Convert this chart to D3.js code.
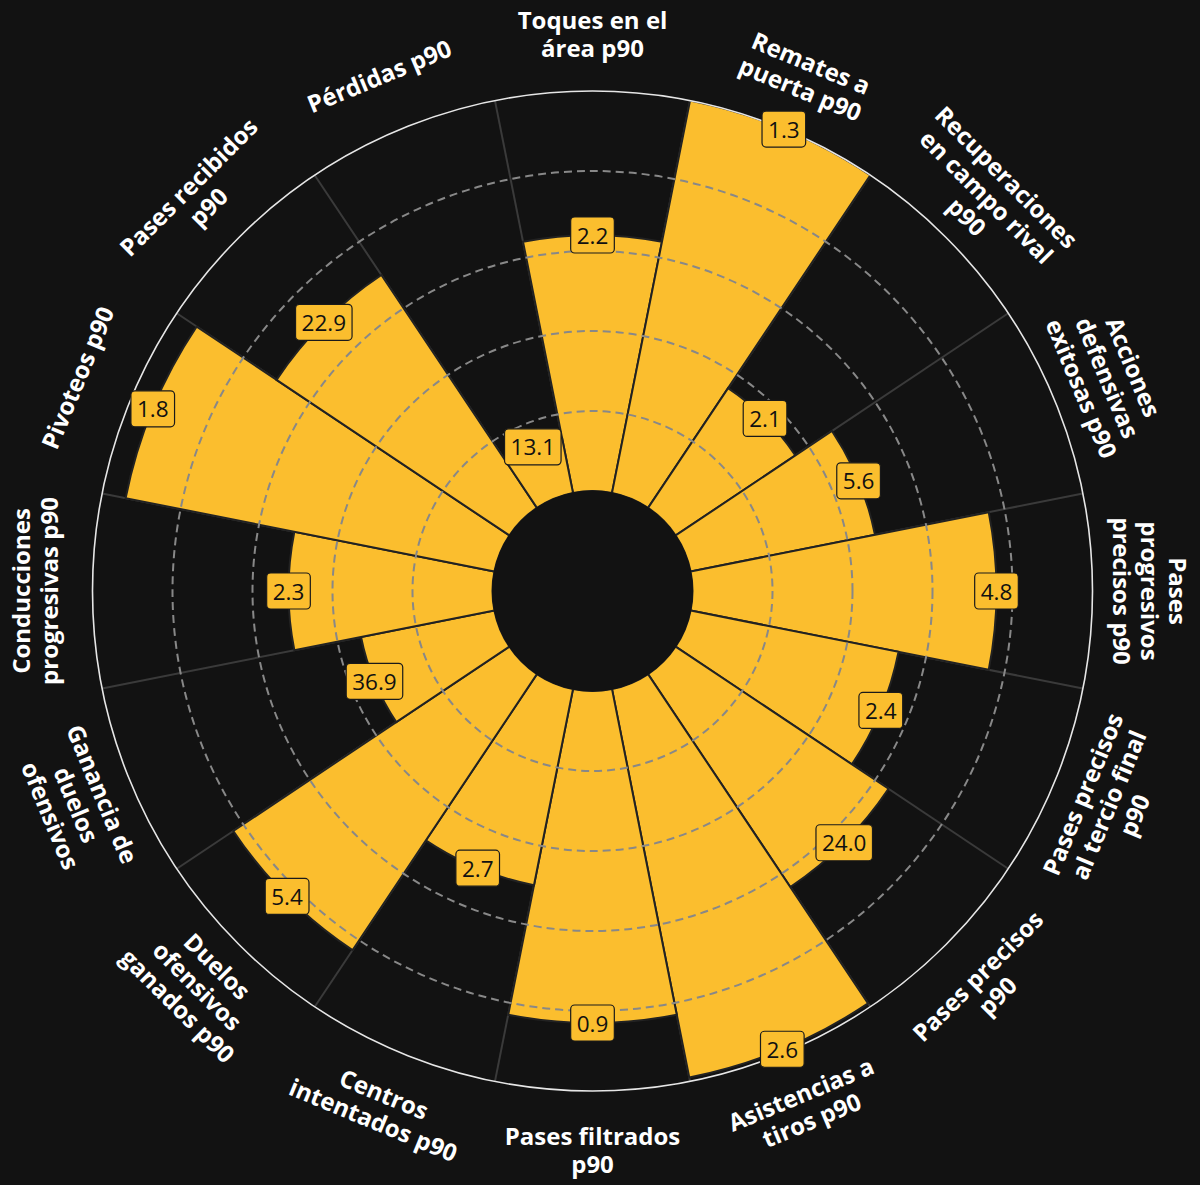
<!DOCTYPE html>
<html>
<head>
<meta charset="utf-8">
<script src="https://cdn.jsdelivr.net/npm/d3@7"></script>
<style>
  html, body { margin: 0; padding: 0; background: #121212; }
  svg { display: block; }
</style>
</head>
<body>
<svg id="chart" width="1200" height="1185"></svg>
<script>
// ---- data ----
const params = [
  "Toques en el\nárea p90",
  "Remates a\npuerta p90",
  "Recuperaciones\nen campo rival\np90",
  "Acciones\ndefensivas\nexitosas p90",
  "Pases\nprogresivos\nprecisos p90",
  "Pases precisos\nal tercio final\np90",
  "Pases precisos\np90",
  "Asistencias a\ntiros p90",
  "Pases filtrados\np90",
  "Centros\nintentados p90",
  "Duelos\nofensivos\nganados p90",
  "Ganancia de\nduelos\nofensivos",
  "Conducciones\nprogresivas p90",
  "Pivoteos p90",
  "Pases recibidos\np90",
  "Pérdidas p90"
];
const percentiles = [64, 100, 36, 47, 76, 53, 64, 99, 83, 50, 83, 34, 51, 94, 70, 14];
const valueLabels = ["2.2", "1.3", "2.1", "5.6", "4.8", "2.4", "24.0", "2.6", "0.9", "2.7", "5.4", "36.9", "2.3", "1.8", "22.9", "13.1"];
const gridTicks = [20, 40, 60, 80];

// ---- layout ----
const W = 1200, H = 1185;
const cx = 592.5, cy = 591;
const innerR = 100, outerR = 500, labelR = 558;
const BG = "#121212", BAR = "#fbbe2e";

const svg = d3.select("#chart");
svg.append("rect").attr("width", W).attr("height", H).attr("fill", BG);
const g = svg.append("g").attr("transform", `translate(${cx},${cy})`);

const n = params.length;
const step = 2 * Math.PI / n;
const angle = d3.scaleLinear().domain([0, n]).range([0, 2 * Math.PI]);
const r = d3.scaleLinear().domain([0, 100]).range([innerR, outerR]);

const toXY = (a, rad) => [rad * Math.sin(a), -rad * Math.cos(a)];

// slice separator lines (background)
for (let i = 0; i < n; i++) {
  const a = angle(i) - step / 2;
  const [x1, y1] = toXY(a, innerR);
  const [x2, y2] = toXY(a, outerR);
  g.append("line").attr("x1", x1).attr("y1", y1).attr("x2", x2).attr("y2", y2)
    .attr("stroke", "#3a3a3a").attr("stroke-width", 2);
}

// bars
const arc = d3.arc();
g.selectAll("path.bar").data(percentiles).join("path")
  .attr("class", "bar")
  .attr("d", (d, i) => arc({
    innerRadius: innerR,
    outerRadius: r(d),
    startAngle: angle(i) - step / 2,
    endAngle: angle(i) + step / 2
  }))
  .attr("fill", BAR)
  .attr("stroke", "#222222")
  .attr("stroke-width", 2)
  .attr("stroke-linejoin", "miter");

// dashed grid circles on top
g.selectAll("circle.grid").data(gridTicks).join("circle")
  .attr("class", "grid")
  .attr("r", d => r(d))
  .attr("fill", "none")
  .attr("stroke", "#888888")
  .attr("stroke-width", 2)
  .attr("stroke-dasharray", "8,5");

// outer circle
g.append("circle").attr("r", outerR).attr("fill", "none")
  .attr("stroke", "#e6e6e6").attr("stroke-width", 1.6);

// inner hole
g.append("circle").attr("r", innerR).attr("fill", BG).attr("stroke", BG).attr("stroke-width", 1);

// value labels
percentiles.forEach((p, i) => {
  const [x, y] = toXY(angle(i), Math.min(r(p), outerR + 7));
  const lg = g.append("g").attr("transform", `translate(${x},${y})`);
  const rect = lg.append("rect");
  const t = lg.append("text")
    .attr("text-anchor", "middle")
    .attr("dominant-baseline", "central")
    .attr("font-family", "'Open Sans', 'Noto Sans', sans-serif")
    .attr("font-size", 22.5)
    .attr("fill", "#111111")
    .text(valueLabels[i]);
  const bb = t.node().getBBox();
  const padX = 6, padY = 2.5;
  rect.attr("x", bb.x - padX).attr("y", bb.y - padY)
    .attr("width", bb.width + 2 * padX).attr("height", bb.height + 2 * padY)
    .attr("rx", 4).attr("ry", 4)
    .attr("fill", BAR).attr("stroke", "#1a1a1a").attr("stroke-width", 1.2);
});

// parameter labels
const lineH = 28;
params.forEach((label, i) => {
  const a = angle(i);
  const deg = a * 180 / Math.PI;
  let rot = deg;
  if (deg > 90 && deg < 270) rot = deg - 180;
  else if (deg >= 270) rot = deg - 360;
  const [x, y] = toXY(a, labelR);
  const lines = label.split("\n");
  const t = g.append("text")
    .attr("transform", `translate(${x},${y}) rotate(${rot})`)
    .attr("text-anchor", "middle")
    .attr("font-family", "'Open Sans', 'Noto Sans', sans-serif")
    .attr("font-weight", "bold")
    .attr("font-size", 24)
    .attr("fill", "#ffffff");
  lines.forEach((ln, k) => {
    t.append("tspan")
      .attr("x", 0)
      .attr("y", (k - (lines.length - 1) / 2) * lineH)
      .attr("dominant-baseline", "central")
      .text(ln);
  });
});
</script>
</body>
</html>
